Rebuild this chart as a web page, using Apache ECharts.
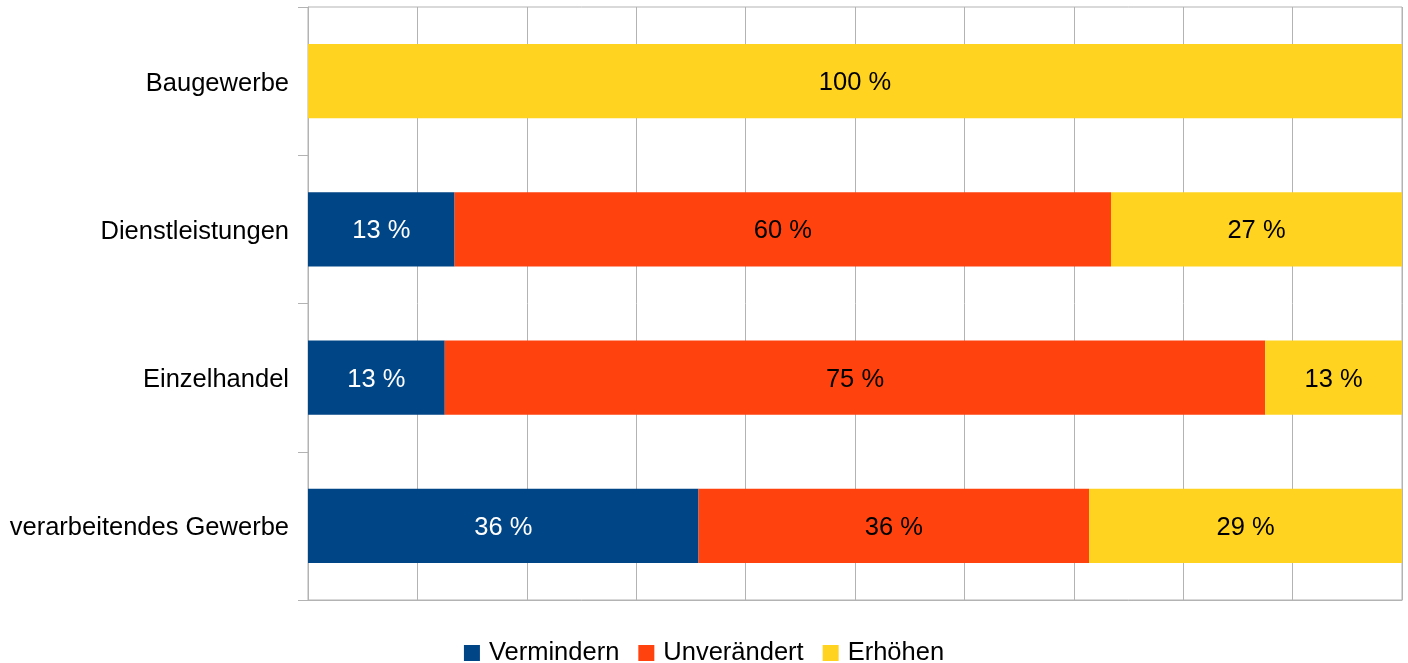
<!DOCTYPE html>
<html><head><meta charset="utf-8">
<script src="https://cdn.jsdelivr.net/npm/echarts@6/dist/echarts.min.js"></script>
<style>html,body{margin:0;padding:0;background:#fff}#c{width:1408px;height:663px}</style>
</head><body><div id="c"></div>
<script>
const categories = ['verarbeitendes Gewerbe', 'Einzelhandel', 'Dienstleistungen', 'Baugewerbe'];
const vermindern = [35.7, 12.5, 13.4, 0];
const unveraendert = [35.7, 75.0, 60.0, 0];
const erhoehen = [28.6, 12.5, 26.6, 100];
const seriesNames = ['Vermindern', 'Unverändert', 'Erhöhen'];
const colors = ['#004586', '#ff420e', '#ffd320'];
const labelColors = ['#ffffff', '#000000', '#000000'];
const FONT = '"Liberation Sans", Arial, sans-serif';

const chart = echarts.init(document.getElementById('c'));
const mk = (name, data, i) => ({
  name, type: 'bar', stack: 'total', data, barWidth: '50%',
  itemStyle: { color: colors[i] },
  label: {
    show: true, position: 'inside', color: labelColors[i], offset: [0, 2],
    fontFamily: FONT, fontSize: 25.5,
    formatter: p => p.value > 0 ? Math.round(p.value) + ' %' : ''
  }
});
chart.setOption({
  animation: false,
  grid: { left: 308, right: 6, top: 7, bottom: 63, show: true, borderColor: '#b3b3b3', borderWidth: 1 },
  legend: {
    top: 635, left: 'center', itemWidth: 16, itemHeight: 16, itemGap: 19,
    icon: 'rect',
    textStyle: { fontFamily: FONT, fontSize: 25.5, color: '#000', padding: [0, 0, 0, 4] },
    data: seriesNames
  },
  xAxis: {
    type: 'value', min: 0, max: 100, interval: 10,
    axisLabel: { show: false }, axisTick: { show: false },
    axisLine: { show: true, lineStyle: { color: '#b3b3b3' } },
    splitLine: { show: true, lineStyle: { color: '#b3b3b3', width: 1 } }
  },
  yAxis: {
    type: 'category', data: categories,
    axisLine: { show: true, lineStyle: { color: '#b3b3b3' } },
    axisTick: { show: true, length: 10, lineStyle: { color: '#b3b3b3' } },
    axisLabel: {
      margin: 19, color: '#000',
      formatter: v => '{a|' + v + '}',
      rich: { a: { fontFamily: FONT, fontSize: 25.5, color: '#000', padding: [5, 0, 0, 0] } }
    }
  },
  series: [mk(seriesNames[0], vermindern, 0), mk(seriesNames[1], unveraendert, 1), mk(seriesNames[2], erhoehen, 2)]
});
</script></body></html>
